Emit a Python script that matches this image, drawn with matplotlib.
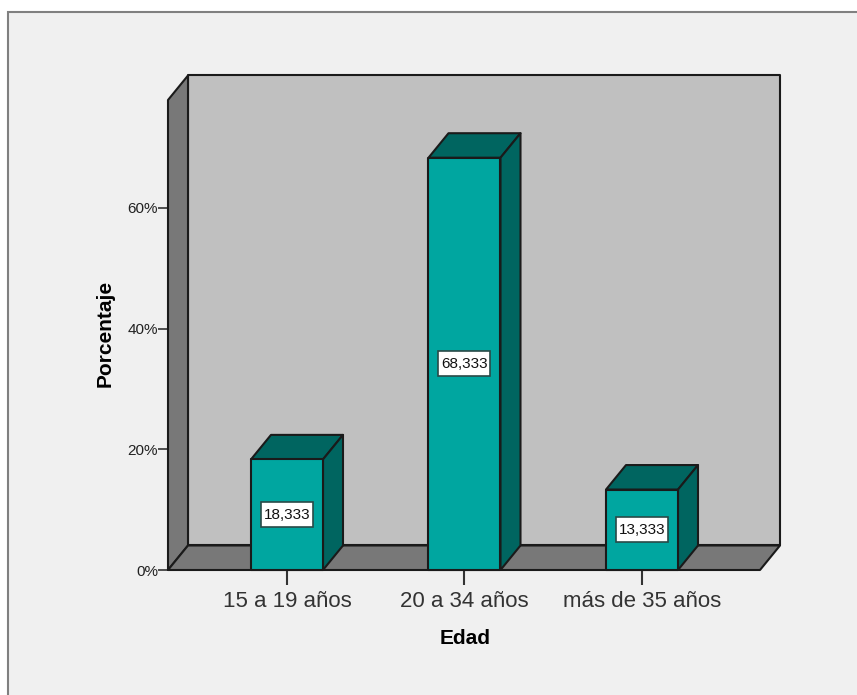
import matplotlib
matplotlib.use("Agg")
from matplotlib import pyplot as plt
from matplotlib.patches import Polygon, Rectangle

plt.rcParams['font.family'] = ['Liberation Sans', 'DejaVu Sans']

categories = ['15 a 19 años', '20 a 34 años', 'más de 35 años']
percentages = [18.333, 68.333, 13.333]
value_labels = ['18,333', '68,333', '13,333']
y_ticks = [0, 20, 40, 60]
y_tick_labels = ['0%', '20%', '40%', '60%']

W, H = 857, 695
fig = plt.figure(figsize=(W / 100, H / 100), dpi=100, facecolor='white')

# chart frame, open on the right and at the bottom
panel = Rectangle((8 / W, -0.01), 1.01, 1 - 11.5 / H + 0.01, transform=fig.transFigure,
                  facecolor='#f0f0f0', edgecolor='#808080', linewidth=1.5, zorder=-1)
fig.add_artist(panel)

# axes covers the front plane of the 3d box
ax = fig.add_axes([168 / W, 1 - 570 / H, (760 - 168) / W, (570 - 100) / H])
ax.set_xlim(-0.6704, 2.6648)
ax.set_ylim(0, 77.9)
ax.patch.set_visible(False)
for s in ax.spines.values():
    s.set_visible(False)

# depth of the box and bars, in data units
dx = 20 / 177.5
dy = 24.5 / 6.033
x0, x1 = ax.get_xlim()
y0, y1 = ax.get_ylim()
edge = '#1a1a1a'


def poly(points, color, z, lw=1.5):
    ax.add_patch(Polygon(points, closed=True, facecolor=color, edgecolor=edge,
                         linewidth=lw, joinstyle='round', zorder=z, clip_on=False))


# back wall, side wall, floor
poly([(x0 + dx, y0 + dy), (x1 + dx, y0 + dy), (x1 + dx, y1 + dy), (x0 + dx, y1 + dy)], '#c0c0c0', 1)
poly([(x0, y0), (x0 + dx, y0 + dy), (x0 + dx, y1 + dy), (x0, y1)], '#787878', 2)
poly([(x0, y0), (x1, y0), (x1 + dx, y0 + dy), (x0 + dx, y0 + dy)], '#787878', 2)

# bars with a white value box on the front face
half = 36 / 177.5
box_w = 52 / 177.5
box_h = 25 / 6.033
for i, v in enumerate(percentages):
    l, r = i - half, i + half
    poly([(l, 0), (r, 0), (r, v), (l, v)], '#00a6a0', 4)
    poly([(l, v), (r, v), (r + dx, v + dy), (l + dx, v + dy)], '#006560', 3)
    poly([(r, 0), (r + dx, dy), (r + dx, v + dy), (r, v)], '#006560', 3)
    ax.add_patch(Rectangle((i - box_w / 2, v / 2 - box_h / 2), box_w, box_h, facecolor='white',
                           edgecolor='#2a4a48', linewidth=1.2, zorder=5))
    ax.text(i, v / 2, value_labels[i], ha='center', va='center', fontsize=11, color='#111111', zorder=6)

ax.set_xticks(range(len(categories)))
ax.set_xticklabels(categories, fontsize=16, color='#333333')
ax.tick_params(axis='x', length=10.8, width=1.5, color='#333333', pad=4.2)
ax.set_yticks(y_ticks)
ax.set_yticklabels(y_tick_labels, fontsize=11, color='#222222')
ax.tick_params(axis='y', length=7.2, width=1.2, color='#333333', pad=0)

fig.text(465 / W, 1 - 638.5 / H, 'Edad', ha='center', va='center', fontsize=15, fontweight='bold')
fig.text(105 / W, 1 - 333 / H, 'Porcentaje', ha='center', va='center', rotation=90,
         fontsize=15, fontweight='bold')

fig.savefig('out.png', dpi=100, facecolor=fig.get_facecolor())
